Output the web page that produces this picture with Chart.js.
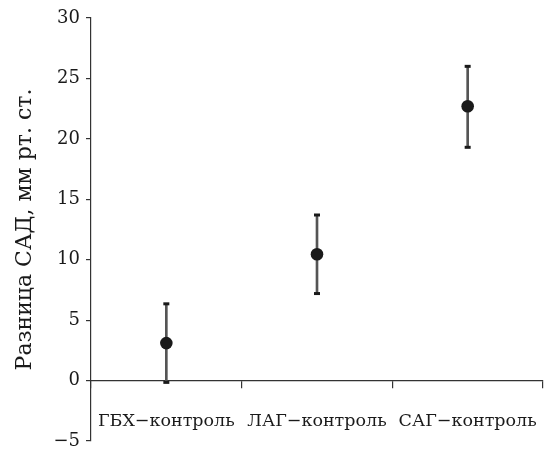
<!DOCTYPE html>
<html>
<head>
<meta charset="utf-8">
<script src="https://cdn.jsdelivr.net/npm/chart.js@4"></script>
<style>
    html, body { margin: 0; padding: 0; background: #fff; overflow: hidden; }
    canvas { display: block; }
</style>
</head>
<body>
<canvas id="sadChart" width="544" height="451"></canvas>
<script>
// Данные
const groups = ['ГБХ−контроль', 'ЛАГ−контроль', 'САГ−контроль'];
const means = [3.1, 10.45, 22.7];
const lower = [-0.15, 7.2, 19.3];
const upper = [6.35, 13.7, 26.0];
const yTicks = [-5, 0, 5, 10, 15, 20, 25, 30];

const FONT = 'DejaVu Serif';
const INK = '#1a1a1a';

const ctx = document.getElementById('sadChart');

// убираем автоматические отступы шкал, чтобы область графика совпала с оригиналом
const noPadding = (scale) => {
    scale.paddingLeft = 0;
    scale.paddingRight = 0;
    scale.paddingTop = 0;
    scale.paddingBottom = 0;
};

new Chart(ctx, {
    type: 'bar',
    data: {
        labels: groups,
        datasets: [
            {
                // вертикальная линия доверительного интервала
                type: 'bar',
                data: lower.map((lo, i) => [lo, upper[i]]),
                backgroundColor: '#555',
                borderWidth: 0,
                barThickness: 2,
                order: 3
            },
            {
                // верхние засечки
                type: 'line',
                data: upper,
                showLine: false,
                pointStyle: 'line',
                pointRadius: 3,
                borderColor: INK,
                pointBorderWidth: 3,
                order: 2
            },
            {
                // нижние засечки
                type: 'line',
                data: lower,
                showLine: false,
                pointStyle: 'line',
                pointRadius: 3,
                borderColor: INK,
                pointBorderWidth: 3,
                order: 2
            },
            {
                // средние значения
                type: 'line',
                data: means,
                showLine: false,
                pointStyle: 'circle',
                pointRadius: 6.3,
                pointBackgroundColor: '#1a1a1a',
                pointBorderWidth: 0,
                order: 1
            }
        ]
    },
    options: {
        responsive: false,
        animation: false,
        devicePixelRatio: 1,
        layout: {
            autoPadding: false,
            padding: { left: 0, right: 1, top: 18, bottom: 10 }
        },
        plugins: {
            legend: { display: false },
            tooltip: { enabled: false }
        },
        scales: {
            x: {
                position: { y: 0 },
                offset: true,
                afterFit: noPadding,
                grid: {
                    offset: true,
                    drawOnChartArea: false,
                    drawTicks: true,
                    tickLength: 7,
                    color: '#333',
                    lineWidth: 1.2
                },
                border: { color: '#333', width: 1.2 },
                ticks: {
                    color: INK,
                    font: { family: FONT, size: 17.5 },
                    padding: 23,
                    maxRotation: 0,
                    autoSkip: false
                }
            },
            y: {
                min: -5,
                max: 30,
                afterBuildTicks: (scale) => { scale.ticks = yTicks.map(v => ({ value: v })); },
                afterFit: (scale) => {
                    noPadding(scale);
                    scale.width = 91;
                },
                grid: {
                    drawOnChartArea: false,
                    drawTicks: true,
                    tickLength: 5,
                    color: '#333',
                    lineWidth: 1.2
                },
                border: { color: '#333', width: 1.2 },
                ticks: {
                    color: INK,
                    font: { family: FONT, size: 18 },
                    padding: 6,
                    callback: (v) => String(v).replace('-', '−')
                },
                title: {
                    display: true,
                    text: 'Разница САД, мм рт. ст.',
                    color: INK,
                    font: { family: FONT, size: 22 },
                    padding: { top: 12, bottom: 2 }
                }
            }
        }
    }
});
</script>
</body>
</html>
